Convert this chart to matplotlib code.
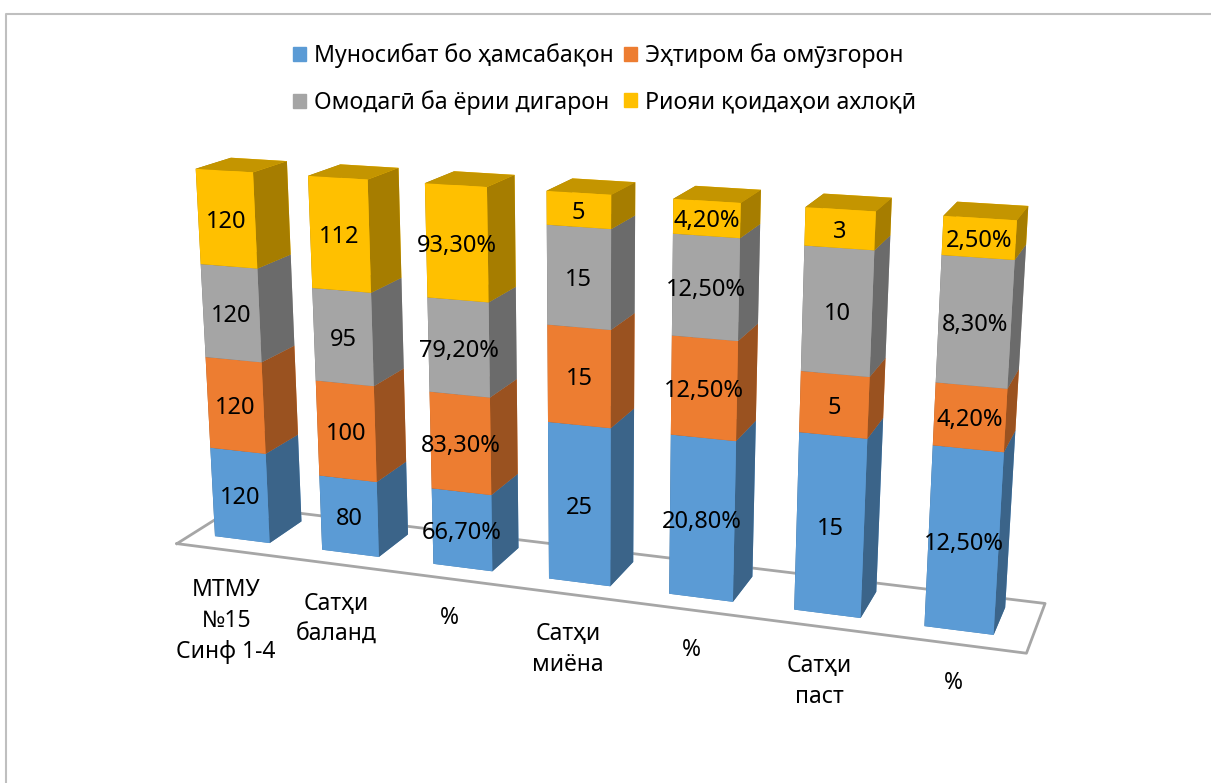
import matplotlib
matplotlib.use('Agg')
import matplotlib.pyplot as plt
from matplotlib.lines import Line2D
from matplotlib.patches import Patch
from mpl_toolkits.mplot3d import proj3d
import numpy as np

plt.rcParams['font.family'] = ['Noto Sans', 'DejaVu Sans']

categories = ['МТМУ\n№15\nСинф 1-4', 'Сатҳи\nбаланд', '%', 'Сатҳи\nмиёна', '%', 'Сатҳи\nпаст', '%']
series_names = ['Муносибат бо ҳамсабақон', 'Эҳтиром ба омӯзгорон',
                'Омодагӣ ба ёрии дигарон', 'Риояи қоидаҳои ахлоқӣ']
hamsabaqon = [120, 80, 66.7, 25, 20.8, 15, 12.5]
ehtirom = [120, 100, 83.3, 15, 12.5, 5, 4.2]
omodagi = [120, 95, 79.2, 15, 12.5, 10, 8.3]
rioya = [120, 112, 93.3, 5, 4.2, 3, 2.5]
hamsabaqon_labels = ['120', '80', '66,70%', '25', '20,80%', '15', '12,50%']
ehtirom_labels = ['120', '100', '83,30%', '15', '12,50%', '5', '4,20%']
omodagi_labels = ['120', '95', '79,20%', '15', '12,50%', '10', '8,30%']
rioya_labels = ['120', '112', '93,30%', '5', '4,20%', '3', '2,50%']

front = ['#5B9BD5', '#ED7D31', '#A5A5A5', '#FFC000']
side = ['#3B6489', '#9A5220', '#6B6B6B', '#A67D00']
top = ['#4A80B0', '#C4672A', '#8A8A8A', '#C49500']

W, H = 1211, 783
fig = plt.figure(figsize=(W / 100, H / 100), dpi=100)

# square axes in pixels, centred on the chart
S = 961
cx, cy = 581, 398
ax = fig.add_axes([(cx - S / 2) / W, (H - cy - S / 2) / H, S / W, S / H],
                  projection='3d', computed_zorder=False)
ax.set_proj_type('persp', focal_length=0.396)
ax.view_init(elev=15.6, azim=-70.7)
ax.set_box_aspect((898, 132, 400))
ax.set_xlim(0, 7, view_margin=0)
ax.set_ylim(0, 1, view_margin=0)
ax.set_zlim(0, 1, view_margin=0)
ax.set_axis_off()
ax.patch.set_alpha(0)


def put_text(x, y, z, s, dx=0, dy=0, va='center', **kw):
    # 3d point to 2d data coords, so the text stays a plain 2d text
    xp, yp, _ = proj3d.proj_transform(x, y, z, ax.get_proj())
    ax.annotate(s, xy=(xp, yp), xycoords='data', xytext=(dx, dy), textcoords='offset pixels',
                ha='center', va=va, color='black', zorder=100, annotation_clip=False, **kw)


# floor
ax.plot([0, 7, 7, 0, 0], [0, 0, 1, 1, 0], [0, 0, 0, 0, 0], color='#A6A6A6', lw=2, zorder=1)

series = np.array([hamsabaqon, ehtirom, omodagi, rioya], dtype=float)
labels = [hamsabaqon_labels, ehtirom_labels, omodagi_labels, rioya_labels]
shares = series / series.sum(axis=0)  # 100% stacked

bar_w = 0.515
bar_mid = 0.465
y0, bar_d = 0.26, 0.56
z_order = 2
for i in range(len(categories)):
    bottom = 0.0
    x = i + bar_mid - bar_w / 2
    for s in range(4):
        h = shares[s, i]
        faces = [top[s], top[s], front[s], front[s], side[s], side[s]]
        bars = ax.bar3d(x, y0, bottom, bar_w, bar_d, h, color=faces, shade=False, linewidth=0)
        bars.set_zorder(z_order)
        z_order += 1
        put_text(i + bar_mid, y0, bottom + h / 2, labels[s][i], dy=-3, fontsize=17)
        bottom += h
    put_text(i + 0.5, 0, 0, categories[i], dx=-4, dy=-27, va='top', fontsize=16.5, linespacing=1.4)

handles = [Patch(color=front[0]), Patch(color=front[2]), Patch(color=front[1]), Patch(color=front[3])]
names = [series_names[0], series_names[2], series_names[1], series_names[3]]
fig.legend(handles, names, ncols=2, frameon=False, fontsize=16.7, loc='upper left',
           bbox_to_anchor=(293 / W, 1 - 43 / H), handlelength=0.56, handleheight=0.56,
           handletextpad=0.35, labelspacing=0.97, columnspacing=0.43, borderpad=0, borderaxespad=0)

# chart frame, only left and top edges fall inside the picture
fig.add_artist(Line2D([5.5 / W, 5.5 / W, 1], [0, 1 - 13.5 / H, 1 - 13.5 / H], color='#BFBFBF', lw=1.5))

fig.savefig('out.png', dpi=100)
